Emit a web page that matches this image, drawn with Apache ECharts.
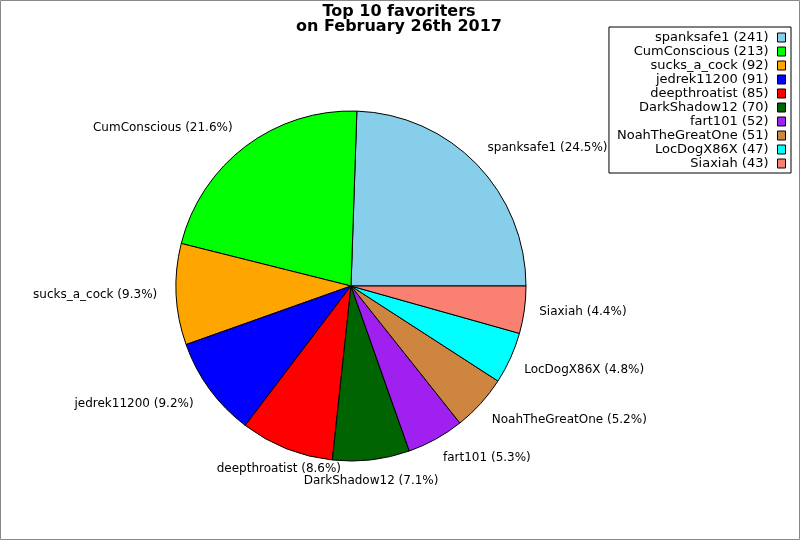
<!DOCTYPE html>
<html><head><meta charset="utf-8">
<script src="https://cdn.jsdelivr.net/npm/echarts@6/dist/echarts.min.js"></script>
<style>html,body{margin:0;padding:0;background:#fff}#c{width:800px;height:540px}</style>
</head><body><div id="c"></div>
<script>
var names = ['spanksafe1','CumConscious','sucks_a_cock','jedrek11200','deepthroatist','DarkShadow12','fart101','NoahTheGreatOne','LocDogX86X','Siaxiah'];
var values = [241,213,92,91,85,70,52,51,47,43];
var colors = ['#87CEEB','#00FF00','#FFA500','#0000FF','#FF0000','#006400','#A020F0','#CD853F','#00FFFF','#FA8072'];
var titleText = 'Top 10 favoriters\non February 26th 2017';

var CX = 351, CY = 286, R = 175, LABEL_R = 190;
var total = values.reduce(function(a,b){return a+b;},0);
var midAngles = [];
var acc = 0;
values.forEach(function(v){ midAngles.push((acc + v/2)/total*2*Math.PI); acc += v; });

var chart = echarts.init(document.getElementById('c'));
var FONT = 'DejaVu Sans';
chart.setOption({
  animation:false,
  backgroundColor:'#fff',
  title:{text:titleText,left:399,textAlign:'center',top:4,padding:0,
    textStyle:{fontFamily:FONT,fontWeight:'bold',fontSize:16,lineHeight:15,color:'#000'}},
  legend:{orient:'vertical',right:9,top:27,align:'right',icon:'rect',
    padding:[4,5,3,8],itemGap:1,itemWidth:8,itemHeight:9,
    borderColor:'#000',borderWidth:1,
    data:names,
    itemStyle:{borderColor:'#000',borderWidth:1},
    formatter:function(n){return n+' ('+values[names.indexOf(n)]+')';},
    textStyle:{fontFamily:FONT,fontSize:13,lineHeight:13,color:'#000',padding:[0,4,0,0]}},
  graphic:[{type:'rect',shape:{x:0.5,y:0.5,width:799,height:539},style:{fill:'none',stroke:'#888',lineWidth:1},silent:true,z:100}],
  series:[{
    type:'pie',
    center:[CX,CY],radius:R,
    startAngle:0,clockwise:false,
    percentPrecision:1,
    avoidLabelOverlap:false,
    itemStyle:{borderColor:'#000',borderWidth:1},
    label:{show:true,position:'outside',formatter:'{b} ({d}%)',
      fontFamily:FONT,fontSize:12,color:'#000'},
    labelLine:{show:false,length:16,length2:0},
    emphasis:{disabled:true},
    labelLayout:function(p){
      var a = midAngles[p.dataIndex];
      var c = Math.cos(a), s = Math.sin(a);
      var align = c > 0.4 ? 'left' : (c < -0.4 ? 'right' : 'center');
      var shift = align === 'right' ? -4 : (align === 'center' ? -2 : 0);
      return {
        x: CX + LABEL_R*c + shift,
        y: CY - LABEL_R*s,
        align: align,
        verticalAlign: s > 0.4 ? 'bottom' : (s < -0.4 ? 'top' : 'middle')
      };
    },
    data:names.map(function(n,i){return {name:n,value:values[i],itemStyle:{color:colors[i]}};})
  }]
});
</script></body></html>
